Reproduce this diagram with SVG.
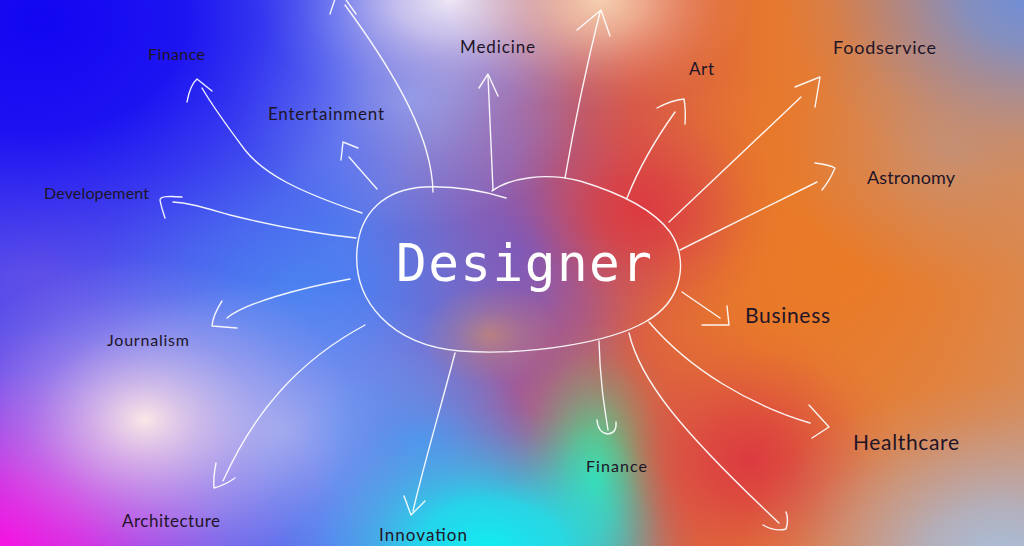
<svg xmlns="http://www.w3.org/2000/svg" width="1024" height="546" viewBox="0 0 1024 546">
<defs>
<linearGradient id="base" x1="0" y1="0" x2="1" y2="0">
<stop offset="0" stop-color="#4a44ec"/>
<stop offset="0.33" stop-color="#5a72ec"/>
<stop offset="0.5" stop-color="#a05c9a"/>
<stop offset="0.62" stop-color="#d85a48"/>
<stop offset="0.75" stop-color="#e6782e"/>
<stop offset="1" stop-color="#d88c58"/>
</linearGradient>
<radialGradient id="gBlue"><stop offset="0" stop-color="#1206f2"/><stop offset="0.35" stop-color="#1408f2" stop-opacity="0.85"/><stop offset="0.6" stop-color="#1a14f2" stop-opacity="0.45"/><stop offset="0.8" stop-color="#2020f0" stop-opacity="0.15"/><stop offset="1" stop-color="#2020f0" stop-opacity="0"/></radialGradient>
<radialGradient id="gMag"><stop offset="0" stop-color="#f614e2"/><stop offset="0.3" stop-color="#f41ce0" stop-opacity="0.8"/><stop offset="0.6" stop-color="#f030e0" stop-opacity="0.4"/><stop offset="0.8" stop-color="#f040e0" stop-opacity="0.13"/><stop offset="1" stop-color="#f040e0" stop-opacity="0"/></radialGradient>
<radialGradient id="gPale"><stop offset="0" stop-color="#fbe6e6"/><stop offset="0.25" stop-color="#f0d4e8" stop-opacity="0.7"/><stop offset="0.55" stop-color="#e0c4ec" stop-opacity="0.35"/><stop offset="0.8" stop-color="#d8c0ec" stop-opacity="0.12"/><stop offset="1" stop-color="#d8c0ec" stop-opacity="0"/></radialGradient>
<radialGradient id="gLav"><stop offset="0" stop-color="#eee8f6"/><stop offset="0.3" stop-color="#dcd6f4" stop-opacity="0.75"/><stop offset="0.6" stop-color="#c0bcf0" stop-opacity="0.35"/><stop offset="0.8" stop-color="#b0b0f0" stop-opacity="0.12"/><stop offset="1" stop-color="#b0b0f0" stop-opacity="0"/></radialGradient>
<radialGradient id="gPeach"><stop offset="0" stop-color="#f6d0b0"/><stop offset="0.3" stop-color="#f4c0a0" stop-opacity="0.75"/><stop offset="0.6" stop-color="#f0b090" stop-opacity="0.35"/><stop offset="0.8" stop-color="#f0a880" stop-opacity="0.12"/><stop offset="1" stop-color="#f0a880" stop-opacity="0"/></radialGradient>
<radialGradient id="gCyan"><stop offset="0" stop-color="#10eef2"/><stop offset="0.35" stop-color="#16e6f2" stop-opacity="0.85"/><stop offset="0.65" stop-color="#28d0f0" stop-opacity="0.4"/><stop offset="0.85" stop-color="#30c0f0" stop-opacity="0.12"/><stop offset="1" stop-color="#30c0f0" stop-opacity="0"/></radialGradient>
<radialGradient id="gGreen"><stop offset="0" stop-color="#3ce6a0"/><stop offset="0.3" stop-color="#44de98" stop-opacity="0.75"/><stop offset="0.6" stop-color="#58cc8c" stop-opacity="0.35"/><stop offset="0.8" stop-color="#60c890" stop-opacity="0.1"/><stop offset="1" stop-color="#60c890" stop-opacity="0"/></radialGradient>
<radialGradient id="gRed"><stop offset="0" stop-color="#dc3a40"/><stop offset="0.3" stop-color="#da3e42" stop-opacity="0.75"/><stop offset="0.6" stop-color="#d84448" stop-opacity="0.35"/><stop offset="0.8" stop-color="#d84448" stop-opacity="0.1"/><stop offset="1" stop-color="#d84448" stop-opacity="0"/></radialGradient>
<radialGradient id="gSteel"><stop offset="0" stop-color="#6a8cdc"/><stop offset="0.3" stop-color="#7090d8" stop-opacity="0.8"/><stop offset="0.6" stop-color="#808cc4" stop-opacity="0.4"/><stop offset="0.8" stop-color="#8a8cb8" stop-opacity="0.13"/><stop offset="1" stop-color="#8a8cb8" stop-opacity="0"/></radialGradient>
<radialGradient id="gGrey"><stop offset="0" stop-color="#a8c0dc"/><stop offset="0.3" stop-color="#aab8d4" stop-opacity="0.8"/><stop offset="0.6" stop-color="#b0b0c8" stop-opacity="0.4"/><stop offset="0.8" stop-color="#b0a8c0" stop-opacity="0.13"/><stop offset="1" stop-color="#b0a8c0" stop-opacity="0"/></radialGradient>
<radialGradient id="gOrange"><stop offset="0" stop-color="#e8a050" stop-opacity="0.5"/><stop offset="0.5" stop-color="#e0a060" stop-opacity="0.2"/><stop offset="1" stop-color="#e0a060" stop-opacity="0"/></radialGradient>
<radialGradient id="gMidBlue"><stop offset="0" stop-color="#4a80f0"/><stop offset="0.3" stop-color="#4c80f0" stop-opacity="0.7"/><stop offset="0.6" stop-color="#5080f0" stop-opacity="0.35"/><stop offset="0.8" stop-color="#5080f0" stop-opacity="0.1"/><stop offset="1" stop-color="#5080f0" stop-opacity="0"/></radialGradient>
<radialGradient id="gPurp"><stop offset="0" stop-color="#8058b8"/><stop offset="0.5" stop-color="#8058b8" stop-opacity="0.4"/><stop offset="1" stop-color="#8058b8" stop-opacity="0"/></radialGradient>
<radialGradient id="gOr2"><stop offset="0" stop-color="#ea7a26"/><stop offset="0.5" stop-color="#ea7a26" stop-opacity="0.45"/><stop offset="1" stop-color="#ea7a26" stop-opacity="0"/></radialGradient>
<radialGradient id="gTan"><stop offset="0" stop-color="#c99070"/><stop offset="0.5" stop-color="#c99070" stop-opacity="0.4"/><stop offset="1" stop-color="#c99070" stop-opacity="0"/></radialGradient>
<radialGradient id="gViolet"><stop offset="0" stop-color="#6a58e6"/><stop offset="0.5" stop-color="#6a58e6" stop-opacity="0.4"/><stop offset="1" stop-color="#6a58e6" stop-opacity="0"/></radialGradient>
<radialGradient id="gSky"><stop offset="0" stop-color="#a8b8f0" stop-opacity="0.7"/><stop offset="0.5" stop-color="#a0b0f0" stop-opacity="0.3"/><stop offset="1" stop-color="#9cb0f0" stop-opacity="0"/></radialGradient>
<radialGradient id="gAzure"><stop offset="0" stop-color="#4898f2" stop-opacity="0.8"/><stop offset="0.5" stop-color="#4898f2" stop-opacity="0.35"/><stop offset="1" stop-color="#4898f2" stop-opacity="0"/></radialGradient>
<style>
.ln{fill:none;stroke:#ffffff;stroke-width:1.4;stroke-linecap:round;stroke-linejoin:round;opacity:0.92}
.lbl{font-family:Lato,"Liberation Sans",sans-serif;fill:#1f1528}
.ttl{font-family:"DejaVu Sans Mono","Liberation Mono",monospace;fill:#ffffff;font-size:51px}
</style>
</defs>

<g id="background">
<rect width="1024" height="546" fill="url(#base)"/>
<ellipse cx="520" cy="250" rx="160" ry="140" fill="url(#gPurp)"/>
<ellipse cx="840" cy="270" rx="260" ry="220" fill="url(#gOr2)"/>
<ellipse cx="950" cy="150" rx="160" ry="140" fill="url(#gTan)"/>
<ellipse cx="40" cy="270" rx="180" ry="150" fill="url(#gViolet)"/>
<ellipse cx="300" cy="290" rx="260" ry="180" fill="url(#gMidBlue)"/>
<ellipse cx="280" cy="430" rx="240" ry="150" fill="url(#gSky)"/>
<ellipse cx="410" cy="100" rx="180" ry="130" fill="url(#gSky)"/>
<ellipse cx="420" cy="440" rx="120" ry="90" fill="url(#gAzure)"/>
<ellipse cx="40" cy="20" rx="420" ry="320" fill="url(#gBlue)"/>
<ellipse cx="0" cy="546" rx="290" ry="220" fill="url(#gMag)"/>
<ellipse cx="145" cy="420" rx="210" ry="160" fill="url(#gPale)"/>
<ellipse cx="450" cy="0" rx="190" ry="120" fill="url(#gLav)"/>
<ellipse cx="600" cy="0" rx="150" ry="110" fill="url(#gPeach)"/>
<ellipse cx="595" cy="480" rx="90" ry="160" fill="url(#gGreen)"/>
<ellipse cx="490" cy="550" rx="210" ry="140" fill="url(#gCyan)"/>
<ellipse cx="640" cy="210" rx="140" ry="120" fill="url(#gRed)"/>
<ellipse cx="750" cy="460" rx="150" ry="140" fill="url(#gRed)"/>
<ellipse cx="1040" cy="-10" rx="260" ry="190" fill="url(#gSteel)"/>
<ellipse cx="1000" cy="560" rx="260" ry="180" fill="url(#gGrey)"/>
<ellipse cx="490" cy="335" rx="70" ry="50" fill="url(#gOrange)"/>
</g>

<g id="connectors">
<path class="ln" d="M433 192 C432 140 400 80 345 5"/>
<path class="ln" d="M330 14 L336 -4 M356 14 L344 -3"/>
<path class="ln" d="M362 213 C300 192 265 175 245 150 C230 130 215 110 202 88"/>
<path class="ln" d="M187 102 Q190 85 197 79 L212 91"/>
<path class="ln" d="M377 189 L349 157"/>
<path class="ln" d="M341 160 L343 142 L358 148"/>
<path class="ln" d="M356 238 C320 234 270 225 230 215 C205 208 190 203 173 202"/>
<path class="ln" d="M182 197 C170 196 160 196 160 200 C161 206 163 212 165 218"/>
<path class="ln" d="M350 279 C300 288 245 303 227 318"/>
<path class="ln" d="M222 301 Q213 315 212 326 L237 328"/>
<path class="ln" d="M365 325 C300 360 255 410 223 481"/>
<path class="ln" d="M216 463 Q213 478 214 488 Q225 485 235 478"/>
<path class="ln" d="M455 353 C440 410 425 460 413 511"/>
<path class="ln" d="M404 496 L411 515 L425 501"/>
<path class="ln" d="M493 190 L488 76"/>
<path class="ln" d="M479 88 L488 74 L498 96"/>
<path class="ln" d="M565 178 C575 120 588 60 600 12"/>
<path class="ln" d="M577 30 L601 10 L610 36"/>
<path class="ln" d="M627 198 C640 165 655 140 675 112"/>
<path class="ln" d="M657 108 Q672 100 684 99 Q686 110 685 124"/>
<path class="ln" d="M669 222 L801 97"/>
<path class="ln" d="M795 87 L820 77 L815 107"/>
<path class="ln" d="M680 250 C730 225 780 200 817 182"/>
<path class="ln" d="M815 163 Q830 165 835 168 Q830 180 822 190"/>
<path class="ln" d="M682 292 L720 318"/>
<path class="ln" d="M727 306 L729 325 L702 325"/>
<path class="ln" d="M649 322 C690 370 750 405 810 423"/>
<path class="ln" d="M809 405 L829 427 L812 438"/>
<path class="ln" d="M629 333 C640 380 680 430 779 523"/>
<path class="ln" d="M763 525 Q775 532 786 529 Q789 520 786 512"/>
<path class="ln" d="M599 341 C600 380 604 405 608 430"/>
<path class="ln" d="M597 420 Q598 433 608 434 Q617 433 616 422"/>
</g>

<g id="node-designer">
<path class="ln" d="M506 198 C480 190 450 186 425 187 C385 189 360 212 357 250 C353 300 390 345 460 351 C530 356 610 342 645 322 C685 300 688 258 670 232 C650 205 610 190 580 181 C545 172 510 178 492 191"/>
<text class="ttl" x="396" y="281" textLength="256">Designer</text>
</g>

<g id="node-finance-top"><text class="lbl" x="148" y="60" font-size="16" textLength="57">Finance</text></g>
<g id="node-entertainment"><text class="lbl" x="268" y="120" font-size="17" textLength="116">Entertainment</text></g>
<g id="node-developement"><text class="lbl" x="44" y="199" font-size="16" textLength="105">Developement</text></g>
<g id="node-medicine"><text class="lbl" x="460" y="53" font-size="17" textLength="75">Medicine</text></g>
<g id="node-art"><text class="lbl" x="689" y="75" font-size="17" textLength="25">Art</text></g>
<g id="node-foodservice"><text class="lbl" x="833" y="54" font-size="18" textLength="103">Foodservice</text></g>
<g id="node-astronomy"><text class="lbl" x="867" y="184" font-size="18" textLength="88">Astronomy</text></g>
<g id="node-business"><text class="lbl" x="745" y="323" font-size="21" textLength="85">Business</text></g>
<g id="node-healthcare"><text class="lbl" x="853" y="450" font-size="21" textLength="106">Healthcare</text></g>
<g id="node-finance-bottom"><text class="lbl" x="586" y="472" font-size="16" textLength="61">Finance</text></g>
<g id="node-journalism"><text class="lbl" x="107" y="346" font-size="16" textLength="82">Journalism</text></g>
<g id="node-architecture"><text class="lbl" x="122" y="527" font-size="17" textLength="98">Architecture</text></g>
<g id="node-innovation"><text class="lbl" x="379" y="541" font-size="17" textLength="88">Innovation</text></g>
</svg>
